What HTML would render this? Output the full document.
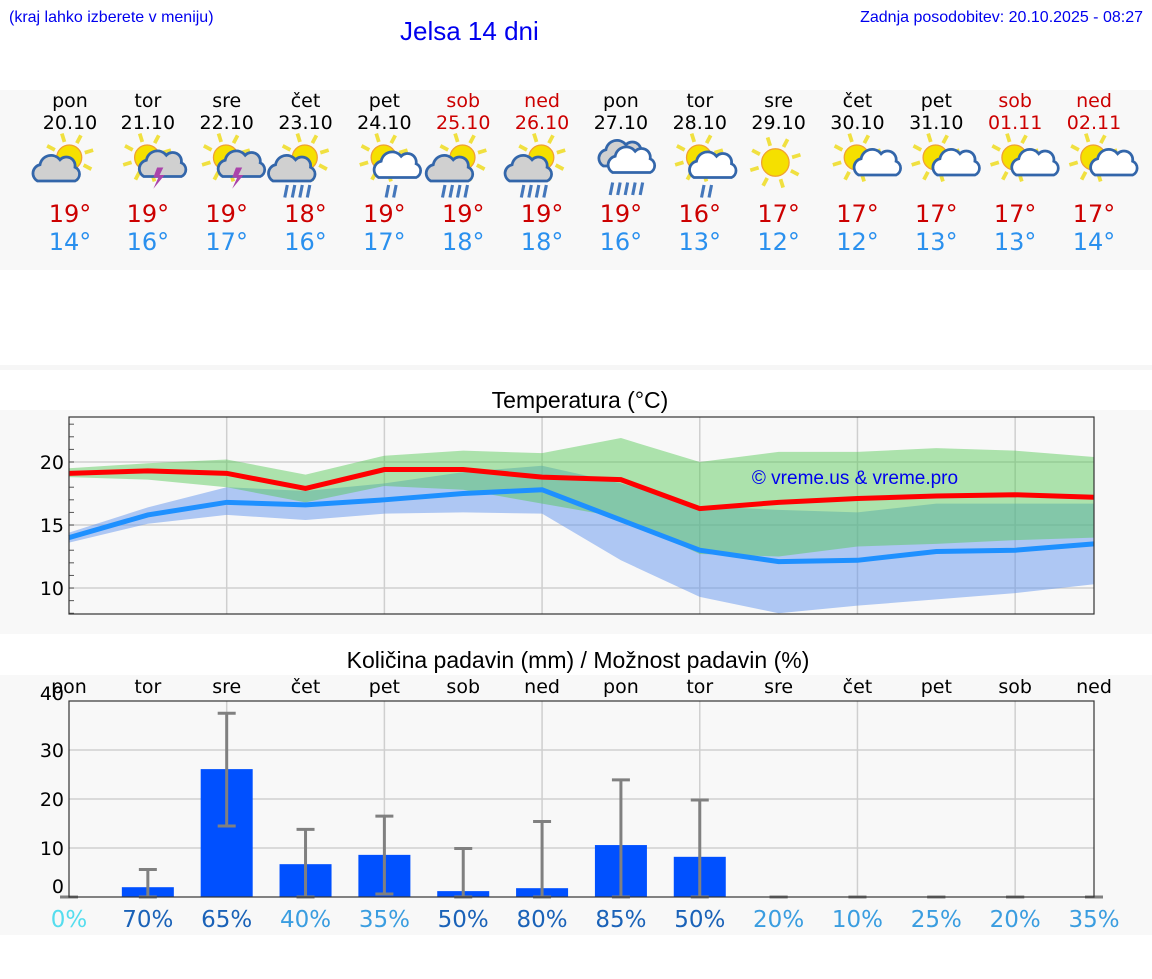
<!DOCTYPE html>
<html><head><meta charset="utf-8"><style>
body{margin:0;background:#fff;font-family:"DejaVu Sans","Liberation Sans",sans-serif;}
svg text{font-family:"DejaVu Sans","Liberation Sans",sans-serif;}
</style></head><body>
<svg id="s" width="1152" height="975" xmlns="http://www.w3.org/2000/svg">
<rect x="0" y="90" width="1152" height="180" fill="#f8f8f8"/>
<rect x="0" y="365" width="1152" height="5" fill="#f6f6f6"/>
<rect x="0" y="410" width="1152" height="224" fill="#f8f8f8"/>
<rect x="0" y="675" width="1152" height="260" fill="#f8f8f8"/>
<text x="9" y="22" font-size="16" fill="#0000ee" style="font-family:'Liberation Sans',sans-serif">(kraj lahko izberete v meniju)</text>
<text x="400" y="40" font-size="26" fill="#0000ee" style="font-family:'Liberation Sans',sans-serif">Jelsa 14 dni</text>
<text x="1143" y="22" font-size="16" fill="#0000ee" text-anchor="end" style="font-family:'Liberation Sans',sans-serif">Zadnja posodobitev: 20.10.2025 - 08:27</text>
<g id="days"></g>
<text x="580" y="408" font-size="23" text-anchor="middle" style="font-family:'Liberation Sans',sans-serif">Temperatura (°C)</text>
<g id="temp"></g>
<text x="578" y="668" font-size="23" text-anchor="middle" style="font-family:'Liberation Sans',sans-serif">Količina padavin (mm) / Možnost padavin (%)</text>
<g id="prec"></g>
</svg>
<script>
const dayNames=["pon","tor","sre","čet","pet","sob","ned","pon","tor","sre","čet","pet","sob","ned"];
const dates=["20.10","21.10","22.10","23.10","24.10","25.10","26.10","27.10","28.10","29.10","30.10","31.10","01.11","02.11"];
const iconTypes=[0,1,1,2,3,2,2,4,3,5,6,6,6,6];
const maxT=[19,19,19,18,19,19,19,19,16,17,17,17,17,17];
const minT=[14,16,17,16,17,18,18,16,13,12,12,13,13,14];
const redLine=[19.1,19.3,19.1,17.9,19.4,19.4,18.8,18.6,16.3,16.8,17.1,17.3,17.4,17.2];
const greenHi=[19.5,19.9,20.2,19.0,20.5,20.9,20.7,21.9,20.0,20.8,20.8,21.1,20.9,20.4];
const greenLo=[18.8,18.6,18.0,16.8,18.1,17.8,16.7,15.6,12.7,12.5,13.3,13.5,13.8,14.0];
const blueLine=[14.0,15.8,16.8,16.6,17.0,17.5,17.8,15.4,13.0,12.1,12.2,12.9,13.0,13.5];
const blueHi=[14.4,16.4,18.0,17.7,18.3,19.2,19.7,18.3,16.5,16.2,16.0,16.7,16.7,16.7];
const blueLo=[13.6,15.1,15.8,15.4,15.9,16.0,15.9,12.2,9.3,8.0,8.6,9.1,9.6,10.3];
const tempTicks=[10,15,20];
const precip=[0,2.0,26.1,6.7,8.6,1.2,1.8,10.6,8.2,0,0,0,0,0];
const errHi=[0,5.6,37.5,13.8,16.5,9.9,15.4,23.9,19.8,0,0,0,0,0];
const errLo=[0,0,14.5,0,0.6,0,0,0,0,0,0,0,0,0];
const chance=[0,70,65,40,35,50,80,85,50,20,10,25,20,35];
const precTicks=[0,10,20,30,40];

const NS="http://www.w3.org/2000/svg";
function mk(tag,attrs,parent,text){const e=document.createElementNS(NS,tag);for(const k in attrs)e.setAttribute(k,attrs[k]);if(text!==undefined)e.textContent=text;parent.appendChild(e);return e;}
const X0=69,X1=1094,step=(X1-X0)/13;
const xAt=i=>X0+i*step;
const weekend=i=>(i%7===5||i%7===6);

const days=document.getElementById('days');
function sun(g,cx,cy,r){
  for(let k=0;k<8;k++){const a=k*Math.PI/4-0.3;mk('line',{x1:cx+Math.cos(a)*(r+3),y1:cy+Math.sin(a)*(r+3),x2:cx+Math.cos(a)*(r+10),y2:cy+Math.sin(a)*(r+10),stroke:'#f0e040','stroke-width':3},g);}
  mk('circle',{cx:cx,cy:cy,r:r,fill:'#f5e000',stroke:'#f0a030','stroke-width':1},g);
}
function cloud(g,cx,cy,s,fill){
  mk('path',{d:`M${cx-14*s},${cy+8*s} a7,7 0 0 1 2,-13 a9,9 0 0 1 16,-4 a7,7 0 0 1 12,6 a6,6 0 0 1 0,11 z`,fill:fill,stroke:'#3366aa','stroke-width':2.2},g);
}
function rain(g,cx,cy,n){for(let k=0;k<n;k++){mk('line',{x1:cx+k*6,y1:cy,x2:cx+k*6-2,y2:cy+10,stroke:'#4477bb','stroke-width':2.5},g);}}
for(let i=0;i<14;i++){
  const g=mk('g',{},days);
  
  
  const col=weekend(i)?'#cc0000':'#000';
  const lx=xAt(i);
  const cxx=lx<70?70:lx;
  mk('text',{x:cxx,y:107,'font-size':19,'text-anchor':'middle',fill:col},g,dayNames[i]);
  mk('text',{x:cxx,y:129,'font-size':19,'text-anchor':'middle',fill:col},g,dates[i]);
  const ic=mk('g',{transform:`translate(${cxx-2},165) scale(1.25) translate(${-cxx},-160)`},g);
  
  
  const t=iconTypes[i], ix=cxx-5, iy=158;
  if(t===5){sun(ic,ix+4,iy,11);}
  else if(t===4){cloud(ic,ix+8,iy-6,1.1,'#d0d0d0');cloud(ic,ix+14,iy,1.0,'#fff');rain(ic,ix,iy+16,5);}
  else{
    sun(ic,ix+6,iy-4,10);
    if(t===0)cloud(ic,ix-4,iy+6,1.1,'#d0d0d0');
    if(t===1){cloud(ic,ix+16,iy+4,0.9,'#d0d0d0');mk('path',{d:`M${ix+14},${iy+4} l-3,8 h4 l-4,9 l9,-11 h-4 l3,-6z`,fill:'#aa44aa'},ic);}
    if(t===2){cloud(ic,ix-4,iy+6,1.1,'#d0d0d0');rain(ic,ix-8,iy+18,4);}
    if(t===3){cloud(ic,ix+16,iy+4,1.0,'#fff');rain(ic,ix+10,iy+18,2);}
    if(t===6){cloud(ic,ix+18,iy+4,0.75,'#fff');}
  }
  mk('text',{x:cxx,y:222,'font-size':24,'text-anchor':'middle',fill:'#cc0000'},g,maxT[i]+'°');
  mk('text',{x:cxx,y:250,'font-size':24,'text-anchor':'middle',fill:'#2a90ee'},g,minT[i]+'°');
}

const tg=document.getElementById('temp');
const TY0=417,TY1=614,TMIN=7.94,TMAX=23.57;
const ty=v=>TY1-(v-TMIN)/(TMAX-TMIN)*(TY1-TY0);
mk('rect',{x:X0,y:TY0,width:X1-X0,height:TY1-TY0,fill:'#f8f8f8'},tg);
tempTicks.forEach(v=>{mk('line',{x1:X0,x2:X1,y1:ty(v),y2:ty(v),stroke:'#cfcfcf','stroke-width':1.5},tg);
  const l=mk('text',{x:64,y:ty(v)+7,'font-size':19,'text-anchor':'end'},tg,v);});
for(let v=8;v<=23;v++)mk('line',{x1:X0,x2:X0+5,y1:ty(v),y2:ty(v),stroke:'#555','stroke-width':1},tg);
for(let i=2;i<13;i+=2)mk('line',{x1:xAt(i),x2:xAt(i),y1:TY0,y2:TY1,stroke:'#cfcfcf','stroke-width':1.5},tg);
function band(hi,lo,fill,name){const pts=hi.map((v,i)=>xAt(i)+','+ty(v)).concat(lo.map((v,i)=>xAt(i)+','+ty(v)).reverse());const p=mk('polygon',{points:pts.join(' '),fill:fill},tg);}
band(blueHi,blueLo,'rgba(100,149,237,0.5)','min-temp-range');
band(greenHi,greenLo,'rgba(80,200,80,0.45)','max-temp-range');
function line(a,c,name){const p=mk('polyline',{points:a.map((v,i)=>xAt(i)+','+ty(v)).join(' '),fill:'none',stroke:c,'stroke-width':5},tg);}
line(blueLine,'#1e90ff','min-temp-line');
line(redLine,'#ff0000','max-temp-line');
mk('rect',{x:X0,y:TY0,width:X1-X0,height:TY1-TY0,fill:'none',stroke:'#333','stroke-width':1.2},tg);
const wm=mk('text',{x:855,y:484,'font-size':19,'text-anchor':'middle',fill:'#0000ee',style:"font-family:'Liberation Sans',sans-serif"},tg,'© vreme.us & vreme.pro');


const pg=document.getElementById('prec');
const PY0=701,PY1=897,PMAX=40;
const py=v=>PY1-v/PMAX*(PY1-PY0);
precTicks.forEach(v=>{if(v>0&&v<40)mk('line',{x1:X0,x2:X1,y1:py(v),y2:py(v),stroke:'#cfcfcf','stroke-width':1.5},pg);
  const yy=v===0?py(v)-4:v===40?py(v)-1:py(v)+7;
  const l=mk('text',{x:64,y:yy,'font-size':19,'text-anchor':'end'},pg,v);});
for(let i=2;i<13;i+=2)mk('line',{x1:xAt(i),x2:xAt(i),y1:PY0,y2:PY1,stroke:'#cfcfcf','stroke-width':1.5},pg);
for(let i=0;i<14;i++){
  const x=xAt(i);
  const lbl=mk('text',{x:x,y:693,'font-size':19,'text-anchor':'middle'},pg,dayNames[i]);
  
  if(precip[i]>0){const b=mk('rect',{x:x-26,y:py(precip[i]),width:52,height:PY1-py(precip[i]),fill:'#0050ff'},pg);
    }
  const e=mk('g',{stroke:'#808080','stroke-width':3},pg);
  
  mk('line',{x1:x,x2:x,y1:py(errHi[i]),y2:py(errLo[i])},e);
  mk('line',{x1:x-9,x2:x+9,y1:py(errHi[i]),y2:py(errHi[i])},e);
  mk('line',{x1:x-9,x2:x+9,y1:py(errLo[i]),y2:py(errLo[i])},e);
  const c=chance[i];const col=c===0?'#55ddee':c>=50?'#1a62b8':'#3a9de0';
  const t=mk('text',{x:x,y:927,'font-size':23,'text-anchor':'middle',fill:col},pg,c+'%');
  
}
mk('rect',{x:X0,y:PY0,width:X1-X0,height:PY1-PY0,fill:'none',stroke:'#333','stroke-width':1.2},pg);
</script>
</body></html>
